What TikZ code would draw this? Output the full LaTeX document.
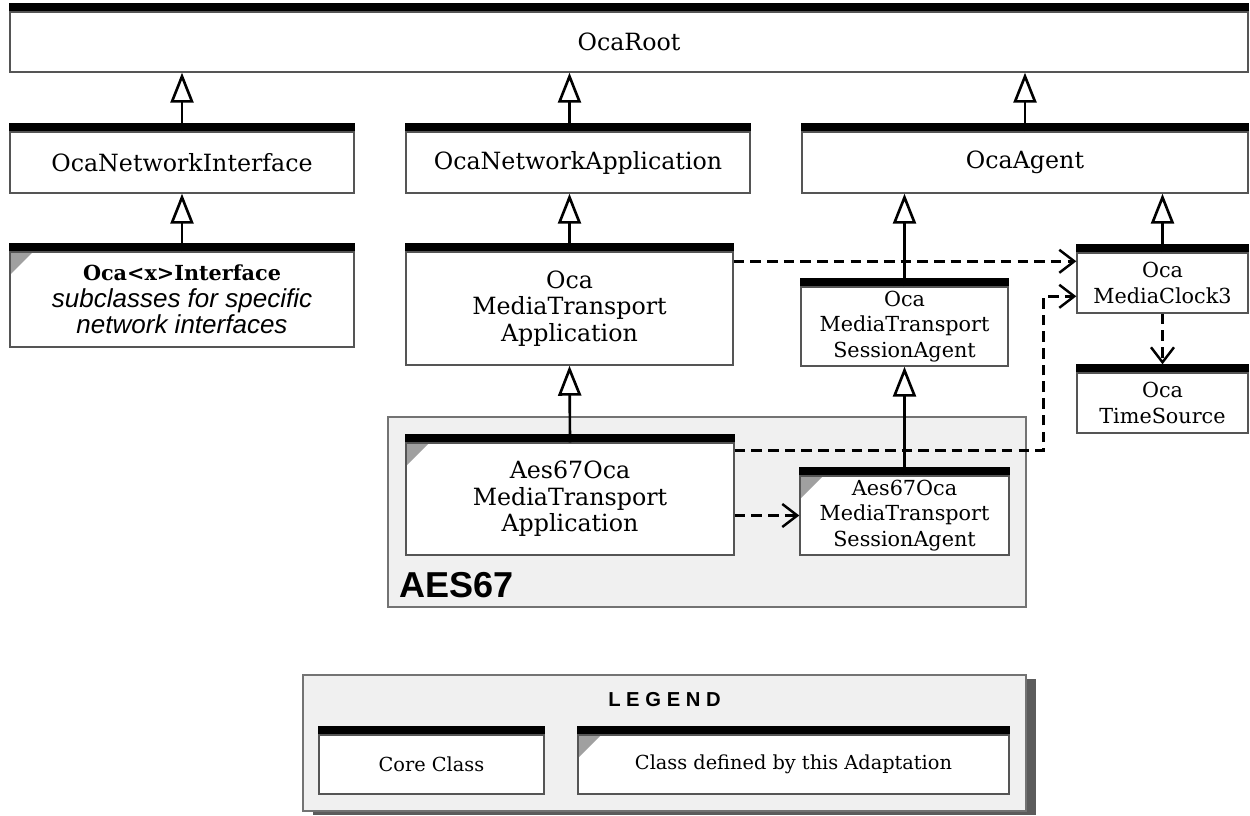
\documentclass[tikz,border=0pt]{standalone}
\usepackage{fontspec}
\setmainfont{DejaVu Serif}
\newfontfamily\sansfont{Liberation Sans}
\newfontfamily\legendfont[LetterSpace=28]{Liberation Sans}
\usetikzlibrary{arrows.meta, positioning, shadows, calc}
\definecolor{groupgray}{RGB}{240,240,240}
\definecolor{cornergray}{RGB}{160,160,160}
\definecolor{edgegray}{RGB}{85,85,85}

\begin{document}
\begin{tikzpicture}[
    cls/.style={rectangle, draw=edgegray, line width=0.8pt, fill=white, inner sep=2pt,
                align=center, font=\fontsize{13.5}{15}\selectfont,
                append after command={\pgfextra{\fill[black] (\tikzlastnode.north west)
                    rectangle ([yshift=0.16cm]\tikzlastnode.north east);}}},
    small/.style={font=\fontsize{11.8}{14.5}\selectfont},
    adapt/.style={path picture={\fill[cornergray] (path picture bounding box.north west)
                    -- ++(0.46,0) -- ++(-0.46,-0.46) -- cycle;}},
    group/.style={rectangle, draw=black!55, line width=0.8pt, fill=groupgray},
    inherit/.style={-{Triangle[open, length=0.6cm, width=0.46cm, fill=white]}, line width=1.5pt},
    dep/.style={-{Straight Barb[length=0.3cm, width=0.46cm]}, line width=1.4pt,
                dash pattern=on 6pt off 3.5pt},
]
    \useasboundingbox (0,0) rectangle (25,-16.32);

    % Core classes
    \node[cls, minimum width=24.76cm, minimum height=1.2cm] (root) at (12.58,-0.84) {OcaRoot};
    \node[cls, minimum width=6.88cm, minimum height=1.22cm] (netif) at (3.64,-3.25) {OcaNetworkInterface};
    \node[cls, minimum width=6.88cm, minimum height=1.22cm] (netapp) at (11.56,-3.25) {OcaNetworkApplication};
    \node[cls, minimum width=8.92cm, minimum height=1.22cm] (agent) at (20.5,-3.25) {OcaAgent};

    \node[cls, adapt, minimum width=6.88cm, minimum height=1.9cm] (xif) at (3.64,-5.99)
        {{\fontsize{11.8}{15}\selectfont\bfseries Oca<x>Interface}\\
         {\sansfont\itshape\fontsize{14.8}{14.5}\selectfont subclasses for specific}\\
         {\sansfont\itshape\fontsize{14.8}{14.5}\selectfont network interfaces}};
    \node[cls, minimum width=6.54cm, minimum height=2.26cm] (mta) at (11.39,-6.17)
        {Oca\\MediaTransport\\Application};
    \node[cls, small, minimum width=4.14cm, minimum height=1.58cm] (mtsa) at (18.09,-6.53)
        {Oca\\MediaTransport\\SessionAgent};
    \node[cls, small, minimum width=3.42cm, minimum height=1.2cm] (clock) at (23.25,-5.66)
        {Oca\\MediaClock3};
    \node[cls, small, minimum width=3.42cm, minimum height=1.2cm] (ts) at (23.25,-8.06)
        {Oca\\TimeSource};

    % AES67 group
    \node[group, minimum width=12.76cm, minimum height=3.8cm] (aes) at (14.14,-10.24) {};
    \node[cls, adapt, minimum width=6.56cm, minimum height=2.24cm] (a67mta) at (11.4,-9.98)
        {Aes67Oca\\MediaTransport\\Application};
    \node[cls, adapt, small, minimum width=4.18cm, minimum height=1.58cm] (a67mtsa) at (18.09,-10.31)
        {Aes67Oca\\MediaTransport\\SessionAgent};
    \node[font=\sansfont\bfseries\fontsize{20.5}{24}\selectfont, anchor=base west, inner sep=0pt]
        (aeslbl) at ([xshift=0.24cm, yshift=0.2cm]aes.south west) {AES67};

    % Inheritance
    \draw[inherit] (netif.north) -- (netif.north |- root.south);
    \draw[inherit] (mta.north |- netapp.north) -- (mta.north |- root.south);
    \draw[inherit] (agent.north) -- (agent.north |- root.south);
    \draw[inherit] (xif.north) -- (netif.south);
    \draw[inherit] (mta.north) -- (mta.north |- netapp.south);
    \draw[inherit] (mtsa.north) -- (mtsa.north |- agent.south);
    \draw[inherit] (clock.north) -- (clock.north |- agent.south);
    \draw[inherit] (a67mta.north) -- (mta.south);
    \draw[inherit] (a67mtsa.north) -- (mtsa.south);

    % Dependencies
    \coordinate (clkin1) at ([yshift=-0.18cm]clock.north west);
    \coordinate (clkin2) at ([yshift=-0.88cm]clock.north west);
    \coordinate (a67out) at ([yshift=-0.16cm]a67mta.north east);
    \coordinate (bendx) at ([xshift=0.34cm]aes.east);
    \draw[dep] (mta.east |- clkin1) -- (clkin1);
    \draw[dep] (a67out) -- (a67out -| bendx) |- (clkin2);
    \draw[dep] (clock.south) -- ([yshift=0.16cm]ts.north);
    \draw[dep] (a67mta.east |- a67mtsa.west) -- (a67mtsa.west);

    % Legend
    \node[group, minimum width=14.46cm, minimum height=2.72cm,
          drop shadow={shadow xshift=0.2cm, shadow yshift=-0.08cm, fill=black!75, opacity=0.85}]
        (legend) at (13.29,-14.86) {};
    \node[font=\legendfont\bfseries\fontsize{11.5}{13}\selectfont]
        (legtitle) at ([yshift=-0.5cm]legend.north) {LEGEND};
    \node[cls, font=\fontsize{11}{13}\selectfont, minimum width=4.5cm, minimum height=1.18cm]
        (core) at (8.63,-15.29) {Core Class};
    \node[cls, adapt, font=\fontsize{11}{13}\selectfont, minimum width=8.62cm, minimum height=1.18cm]
        (adaptcls) at (15.87,-15.29) {Class defined by this Adaptation};
\end{tikzpicture}
\end{document}
